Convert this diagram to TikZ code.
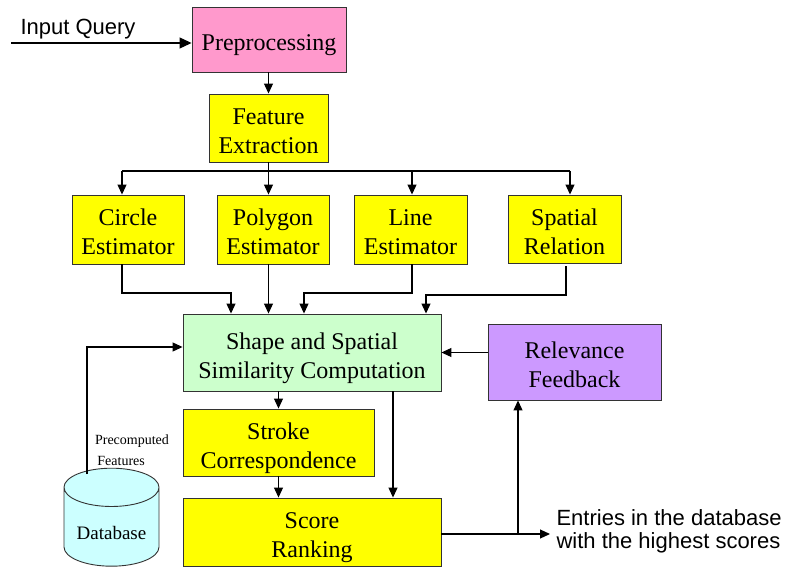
\documentclass[tikz,border=0pt]{standalone}
\usepackage{fontspec}
\setmainfont{Liberation Serif}
\newfontfamily\arialfont{Liberation Sans}
\usetikzlibrary{arrows.meta,shapes.geometric}
\definecolor{prepink}{HTML}{FF99CC}
\definecolor{boxyellow}{HTML}{FFFF00}
\definecolor{simgreen}{HTML}{CCFFCC}
\definecolor{fbpurple}{HTML}{CC99FF}
\definecolor{dbcyan}{HTML}{CCFFFF}
\begin{document}
\begin{tikzpicture}[x = 1pt, y = -1pt, line width = 1.1pt, >={Triangle[length = 10pt, width = 9pt]},
                    block node/.style = {draw = black!80, line width = 0.9pt, rectangle, fill = boxyellow, align = center, inner sep = 0pt, text height = 51pt, text depth = 0pt, font = \fontsize{24}{29}\selectfont},
                    side text/.style = {align = left, inner sep = 0pt, font = \arialfont\fontsize{22}{23}\selectfont}]
                    \useasboundingbox (0, 0) rectangle (787, 569);
                    \node at (269, 39.5) [block node, fill = prepink, text height = 22pt, minimum width = 154pt, minimum height = 65pt] (prep) {Preprocessing};
                    \node at (268.5, 128) [block node, minimum width = 119pt, minimum height = 68pt] (feat) {Feature\\Extraction};
                    \node at (128, 229.5) [block node, minimum width = 112pt, minimum height = 69pt] (circle) {Circle\\Estimator};
                    \node at (273, 229.5) [block node, minimum width = 112pt, minimum height = 69pt] (polygon) {Polygon\\Estimator};
                    \node at (410.5, 229.5) [block node, minimum width = 113pt, minimum height = 69pt] (line) {Line\\Estimator};
                    \node at (564.5, 229) [block node, minimum width = 113pt, minimum height = 68pt] (spatial) {Spatial\\Relation};
                    \node at (312, 352.5) [block node, fill = simgreen, minimum width = 258pt, minimum height = 77pt] (shape) {Shape and Spatial\\Similarity Computation};
                    \node at (278.5, 442.5) [block node, minimum width = 191pt, minimum height = 67pt] (stroke) {Stroke\\Correspondence};
                    \node at (312, 532) [block node, minimum width = 258pt, minimum height = 68pt] (score) {Score\\Ranking};
                    \node at (574.5, 362) [block node, fill = fbpurple, minimum width = 173pt, minimum height = 76pt] (relevance) {Relevance\\Feedback};
                    \node at (111.5, 527) [draw = black!80, line width = 0.9pt, cylinder, shape border rotate = 90, aspect = 0.55, fill = dbcyan, minimum width = 95pt, minimum height = 98pt, inner sep = 0pt, text height = 24pt, text depth = 0pt, font = \fontsize{19}{22}\selectfont] (db) {Database};
                    \node at (132, 450.5) [align = left, inner sep = 0pt, font = \fontsize{14}{21}\selectfont] (precomp) {Precomputed\\\,Features};
                    \node at (78, 29) [side text] (query) {Input Query};
                    \node at (556, 531) [side text, anchor = west] (entries) {Entries in the database\\with the highest scores};
                    \coordinate (qin) at (11, 43);
                    \coordinate (busL) at (122, 171);
                    \coordinate (busR) at (570, 171);
                    \coordinate (tapLine) at (412, 171);
                    \coordinate (jn1) at (231, 293);
                    \coordinate (jn3) at (304, 293);
                    \coordinate (jn4) at (426, 295);
                    \coordinate (dbtap) at (87, 474);
                    \coordinate (out) at (550, 534);
                    \coordinate (fb) at (518, 534);

                    \draw [-{Triangle[length = 12pt, width = 11pt]}] (qin) -- (prep.west |- qin);
                    \draw [->] (prep.south -| feat) -- (feat);
                    \draw (busL) -- (busR);
                    \draw [->] (busL) -- (busL |- circle.north);
                    \draw [->] (feat) -- (feat |- polygon.north);
                    \draw [->] (tapLine) -- (tapLine |- line.north);
                    \draw [->] (busR) -- (busR |- spatial.north);
                    \draw [->] (circle.south -| busL) |- (jn1) -- (jn1 |- shape.north);
                    \draw [->] (polygon.south -| feat) -- (feat |- shape.north);
                    \draw [->] (line.south -| tapLine) |- (jn3) -- (jn3 |- shape.north);
                    \draw [->] ([xshift = 1.5pt, yshift = -3pt]spatial.south) |- (jn4) -- (jn4 |- shape.north);
                    \draw [->] (shape.south -| stroke) -- (stroke);
                    \draw [->] (stroke) -- (stroke |- score.north);
                    \draw [->] ([xshift = 81pt]shape.south) -- ([xshift = 81pt]score.north);
                    \draw [->] (relevance.west |- shape) -- (shape.east);
                    \draw [->] (dbtap) |- ([yshift = 5.5pt]shape.west);
                    \draw [->] (score.east |- out) -- (out);
                    \draw [->] (fb) -- (fb |- relevance.south);
                \end{tikzpicture}
\end{document}
